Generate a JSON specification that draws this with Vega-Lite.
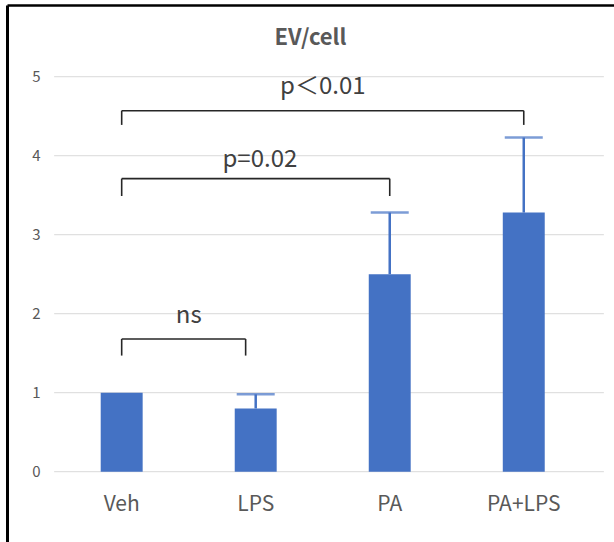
{
  "$schema": "https://vega.github.io/schema/vega-lite/v6.json",
  "width": 607,
  "height": 537,
  "autosize": {"type": "none"},
  "padding": {"left": 7, "top": 5, "right": 0, "bottom": 0},
  "background": "#ffffff",
  "title": {
    "text": "EV/cell",
    "fontSize": 22,
    "fontWeight": "bold",
    "color": "#595959",
    "font": "Noto Sans CJK JP",
    "anchor": "middle",
    "frame": "group",
    "baseline": "alphabetic",
    "offset": -62,
    "dx": 0
  },
  "datasets": {
    "grid": [{"v": 0}, {"v": 1}, {"v": 2}, {"v": 3}, {"v": 4}, {"v": 5}],
    "bars": [
      {"group": "Veh", "value": 1.0, "upper": null},
      {"group": "LPS", "value": 0.80, "upper": 0.98},
      {"group": "PA", "value": 2.50, "upper": 3.28},
      {"group": "PA+LPS", "value": 3.28, "upper": 4.23}
    ],
    "brackets": [
      {"label": "ns", "from": "Veh", "to": "LPS", "top": 1.68, "bottom": 1.47, "labelAt": "Veh", "textY": 1.88, "mid": "boundary"},
      {"label": "p=0.02", "from": "Veh", "to": "PA", "top": 3.71, "bottom": 3.49, "labelAt": "LPS", "textY": 3.86, "mid": "center"},
      {"label": "p＜0.01", "from": "Veh", "to": "PA+LPS", "top": 4.57, "bottom": 4.39, "labelAt": "LPS", "textY": 4.78, "mid": "boundary"}
    ]
  },
  "encoding": {
    "y": {"type": "quantitative", "scale": {"domain": [-0.89, 5.908], "nice": false, "zero": false}, "title": null,
          "axis": {"values": [0, 1, 2, 3, 4, 5], "format": "d", "domain": true, "domainColor": "#000000", "domainWidth": 3,
                   "ticks": false, "grid": false, "labelPadding": -33, "labelColor": "#595959", "labelFontSize": 15}}
  },
  "resolve": {"axis": {"x": "independent"}},
  "layer": [
    {
      "data": {"name": "grid"},
      "mark": {"type": "rule", "color": "#d9d9d9", "strokeWidth": 1},
      "encoding": {
        "x": {"datum": "Veh", "type": "nominal", "bandPosition": -1.11,
              "axis": {"orient": "top", "labels": false, "ticks": false, "grid": false, "domain": true,
                       "domainColor": "#000000", "domainWidth": 2.5, "title": null}},
        "x2": {"datum": "PA+LPS", "bandPosition": 2.41},
        "y": {"field": "v", "type": "quantitative"}
      }
    },
    {
      "layer": [
        {
          "data": {"name": "bars"},
          "mark": {"type": "bar", "color": "#4472C4"},
          "encoding": {
            "x": {"field": "group", "type": "nominal", "sort": ["Veh", "LPS", "PA", "PA+LPS"],
                  "scale": {"domain": ["Veh", "LPS", "PA", "PA+LPS"], "paddingInner": 0.687, "paddingOuter": 0.608, "align": 0.575},
                  "title": null,
                  "axis": {"orient": "bottom", "domain": false, "ticks": false, "grid": false, "labelColor": "#595959",
                           "labelFontSize": 21, "labelAngle": 0, "labelBaseline": "alphabetic", "labelPadding": -32}},
            "y": {"field": "value", "type": "quantitative"}
          }
        },
        {
          "data": {"name": "bars"},
          "transform": [{"filter": "datum.upper != null"}],
          "mark": {"type": "rule", "color": "#4472C4", "strokeWidth": 2.5},
          "encoding": {
            "x": {"field": "group", "type": "nominal"},
            "y": {"field": "value", "type": "quantitative"},
            "y2": {"field": "upper"}
          }
        },
        {
          "data": {"name": "bars"},
          "transform": [{"filter": "datum.upper != null"}],
          "mark": {"type": "tick", "color": "#4472C4", "thickness": 2.5, "size": 38, "orient": "horizontal"},
          "encoding": {
            "x": {"field": "group", "type": "nominal"},
            "y": {"field": "upper", "type": "quantitative"}
          }
        },
        {
          "data": {"name": "brackets"},
          "transform": [{"filter": "datum.label != 'ns'"}],
          "mark": {"type": "rule", "color": "#262626", "strokeWidth": 1.6},
          "encoding": {
            "x": {"field": "to", "type": "nominal"},
            "x2": {"field": "from"},
            "y": {"field": "top", "type": "quantitative"}
          }
        },
        {
          "data": {"name": "brackets"},
          "transform": [{"filter": "datum.label == 'ns'"}],
          "mark": {"type": "rule", "color": "#262626", "strokeWidth": 1.6},
          "encoding": {
            "x": {"field": "to", "type": "nominal", "bandPosition": 0.26},
            "x2": {"field": "from"},
            "y": {"field": "top", "type": "quantitative"}
          }
        },
        {
          "data": {"name": "brackets"},
          "mark": {"type": "rule", "color": "#262626", "strokeWidth": 1.6},
          "encoding": {
            "x": {"field": "from", "type": "nominal"},
            "y": {"field": "bottom", "type": "quantitative"},
            "y2": {"field": "top"}
          }
        },
        {
          "data": {"name": "brackets"},
          "transform": [{"filter": "datum.label != 'ns'"}],
          "mark": {"type": "rule", "color": "#262626", "strokeWidth": 1.6},
          "encoding": {
            "x": {"field": "to", "type": "nominal"},
            "y": {"field": "bottom", "type": "quantitative"},
            "y2": {"field": "top"}
          }
        },
        {
          "data": {"name": "brackets"},
          "transform": [{"filter": "datum.label == 'ns'"}],
          "mark": {"type": "rule", "color": "#262626", "strokeWidth": 1.6},
          "encoding": {
            "x": {"field": "to", "type": "nominal", "bandPosition": 0.26},
            "y": {"field": "bottom", "type": "quantitative"},
            "y2": {"field": "top"}
          }
        },
        {
          "data": {"name": "brackets"},
          "transform": [{"filter": "datum.mid == 'boundary'"}],
          "mark": {"type": "text", "color": "#404040", "fontSize": 24, "baseline": "alphabetic", "align": "center", "font": "Noto Sans CJK JP"},
          "encoding": {
            "x": {"field": "labelAt", "type": "nominal", "bandPosition": 2.1},
            "y": {"field": "textY", "type": "quantitative"},
            "text": {"field": "label"}
          }
        },
        {
          "data": {"name": "brackets"},
          "transform": [{"filter": "datum.mid == 'center'"}],
          "mark": {"type": "text", "color": "#404040", "fontSize": 24, "baseline": "alphabetic", "align": "center", "font": "Noto Sans CJK JP"},
          "encoding": {
            "x": {"field": "labelAt", "type": "nominal", "bandPosition": 0.6},
            "y": {"field": "textY", "type": "quantitative"},
            "text": {"field": "label"}
          }
        }
      ]
    }
  ],
  "config": {
    "font": "Noto Sans CJK JP",
    "view": {"stroke": null},
    "axis": {"labelFont": "Noto Sans CJK JP"}
  }
}
